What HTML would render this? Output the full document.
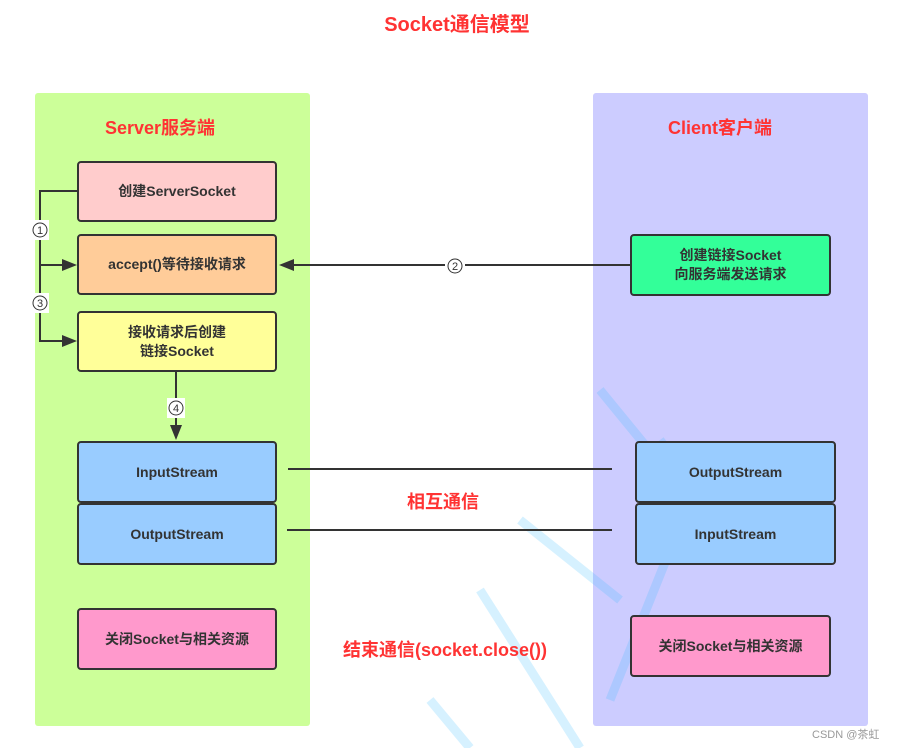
<!DOCTYPE html>
<html><head><meta charset="utf-8"><style>
body{margin:0;width:897px;height:748px;background:#fff;position:relative;overflow:hidden;font-family:"Liberation Sans","Noto Sans CJK SC",sans-serif}
.a{position:absolute}
.box{position:absolute;border:2px solid #333;border-radius:4px;box-sizing:border-box;display:flex;align-items:center;justify-content:center;text-align:center;font-weight:bold;font-size:14px;color:#333;line-height:19px}
.red{position:absolute;color:#ff3333;font-weight:bold;white-space:nowrap;transform:translateX(-50%)}
</style></head><body>
<div class="a" style="left:35px;top:93px;width:275px;height:633px;background:#ccff99;border-radius:3px"></div>
<div class="a" style="left:593px;top:93px;width:275px;height:633px;background:#ccccff;border-radius:3px"></div>
<svg class="a" style="left:0;top:0" width="897" height="748">
<g stroke="#33bbff" stroke-opacity="0.2" stroke-width="9" fill="none">
<path d="M600 390 L690 500 L610 700"/><path d="M480 590 L580 748"/><path d="M430 700 L470 748"/><path d="M660 440 L720 520"/><path d="M520 520 L620 600"/>
</g>
</svg>
<div class="red" style="left:457px;top:8px;font-size:20px">Socket通信模型</div>
<div class="red" style="left:160px;top:114px;font-size:18px">Server服务端</div>
<div class="red" style="left:720px;top:114px;font-size:18px">Client客户端</div>
<div class="box" style="left:77px;top:161px;width:200px;height:61px;background:#ffcccc">创建ServerSocket</div>
<div class="box" style="left:77px;top:234px;width:200px;height:61px;background:#ffcc99">accept()等待接收请求</div>
<div class="box" style="left:77px;top:311px;width:200px;height:61px;background:#ffff99">接收请求后创建<br>链接Socket</div>
<div class="box" style="left:77px;top:441px;width:200px;height:62px;background:#99ccff">InputStream</div>
<div class="box" style="left:77px;top:503px;width:200px;height:62px;background:#99ccff">OutputStream</div>
<div class="box" style="left:77px;top:608px;width:200px;height:62px;background:#ff99cc">关闭Socket与相关资源</div>
<div class="box" style="left:630px;top:234px;width:201px;height:62px;background:#33ff99">创建链接Socket<br>向服务端发送请求</div>
<div class="box" style="left:635px;top:441px;width:201px;height:62px;background:#99ccff">OutputStream</div>
<div class="box" style="left:635px;top:503px;width:201px;height:62px;background:#99ccff">InputStream</div>
<div class="box" style="left:630px;top:615px;width:201px;height:62px;background:#ff99cc">关闭Socket与相关资源</div>
<svg class="a" style="left:0;top:0" width="897" height="748">
<g stroke="#333" stroke-width="2" fill="none">
<path d="M77 191 H40 V341 H64"/><path d="M40 265 H64"/>
<path d="M176 372 V428"/><path d="M630 265 H292"/>
<path d="M288 469 H612"/><path d="M287 530 H612"/>
</g>
<g fill="#333">
<path d="M77 265 L62 259 V271Z"/><path d="M77 341 L62 335 V347Z"/>
<path d="M176 440 L170 425 H182Z"/><path d="M279 265 L294 259 V271Z"/>
</g>
<g font-family="Liberation Sans" font-size="11" text-anchor="middle" fill="#333">
<rect x="31" y="220" width="18" height="20" fill="#fff"/><circle cx="40" cy="230" r="7" fill="#fff" stroke="#333"/><text x="40" y="234">1</text>
<rect x="31" y="293" width="18" height="20" fill="#fff"/><circle cx="40" cy="303" r="7" fill="#fff" stroke="#333"/><text x="40" y="307">3</text>
<rect x="167" y="398" width="18" height="20" fill="#fff"/><circle cx="176" cy="408" r="7" fill="#fff" stroke="#333"/><text x="176" y="412">4</text>
<rect x="445" y="256" width="20" height="18" fill="#fff"/><circle cx="455" cy="266" r="7" fill="#fff" stroke="#333"/><text x="455" y="270">2</text>
</g>
</svg>
<div class="red" style="left:443px;top:488px;font-size:18px">相互通信</div>
<div class="red" style="left:445px;top:636px;font-size:18px">结束通信(socket.close())</div>
<div class="a" style="left:812px;top:726px;font-size:11px;color:#999">CSDN @茶虹</div>
</body></html>
